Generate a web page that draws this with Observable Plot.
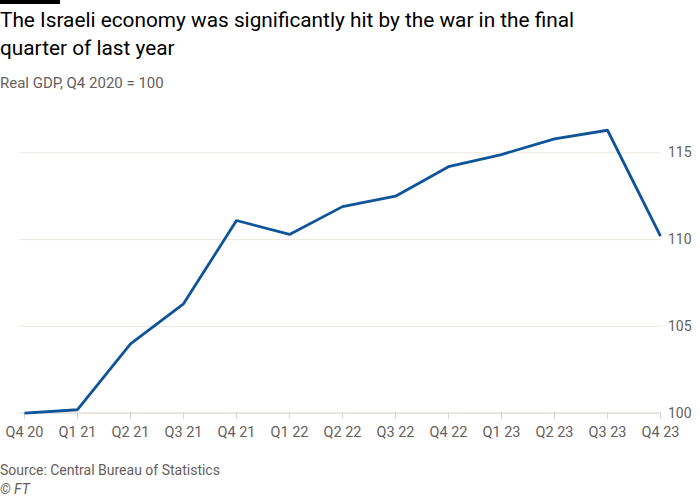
<!DOCTYPE html>
<html>
<head>
<meta charset="utf-8">
<script src="https://cdn.jsdelivr.net/npm/d3@7"></script>
<script src="https://cdn.jsdelivr.net/npm/@observablehq/plot@0.6"></script>
<style>
  html, body { margin: 0; padding: 0; background: #fff; }
  body { width: 700px; height: 500px; position: relative; font-family: Roboto, "Noto Sans", sans-serif; overflow: hidden; }
  #bar { position: absolute; left: 0; top: 0; width: 60px; height: 4px; background: #000; }
  #title { position: absolute; left: 0; top: 6px; width: 695px; font-size: 20.8px; line-height: 28px; color: #000; }
  #subtitle { position: absolute; left: 0; top: 74px; font-size: 15px; color: #66605c; }
  #chart { position: absolute; left: 0; top: 100px; }
  #source { position: absolute; left: 0; top: 462px; font-size: 14px; color: #66605c; }
  #credit { position: absolute; left: 0; top: 481px; font-size: 14px; color: #66605c; font-style: italic; }
</style>
</head>
<body>
<div id="bar"></div>
<div id="title">The Israeli economy was significantly hit by the war in the final<br>quarter of last year</div>
<div id="subtitle">Real GDP, Q4 2020 = 100</div>
<div id="chart"></div>
<div id="source">Source: Central Bureau of Statistics</div>
<div id="credit">© FT</div>
<script>
const quarters = ["Q4 20","Q1 21","Q2 21","Q3 21","Q4 21","Q1 22","Q2 22","Q3 22","Q4 22","Q1 23","Q2 23","Q3 23","Q4 23"];
const gdp = [100, 100.2, 104.0, 106.3, 111.1, 110.3, 111.9, 112.5, 114.2, 114.9, 115.8, 116.3, 110.2];
const yTicks = [100, 105, 110, 115];

const data = quarters.map((q, i) => ({q, v: gdp[i]}));

const chart = Plot.plot({
  width: 700,
  height: 345,
  marginTop: 17.6,
  marginBottom: 32.3,
  marginLeft: 23.3,
  marginRight: 39.5,
  style: {fontFamily: "Roboto, 'Noto Sans', sans-serif", fontSize: "14px", color: "#66605c", background: "transparent"},
  x: {type: "point", domain: quarters, padding: 0},
  y: {domain: [100, 117]},
  marks: [
    Plot.ruleY(yTicks.filter(d => d !== 100), {stroke: "#ece6e0", strokeWidth: 1, insetLeft: -4}),
    Plot.ruleY([100], {stroke: "#e0d8d0", strokeWidth: 1.2, insetLeft: -4}),
    Plot.axisX({ticks: quarters, tickSize: 6, tickPadding: 8, stroke: "#d9d1ca", fill: "#66605c", fontSize: 14.5, label: null}),
    Plot.axisY({anchor: "right", ticks: yTicks, tickSize: 0, tickPadding: 7, fill: "#66605c", fontSize: 14, label: null}),
    Plot.line(data, {x: "q", y: "v", stroke: "#0f5499", strokeWidth: 2.8, strokeLinejoin: "miter", strokeLinecap: "butt"})
  ]
});
document.getElementById("chart").appendChild(chart);
</script>
</body>
</html>
